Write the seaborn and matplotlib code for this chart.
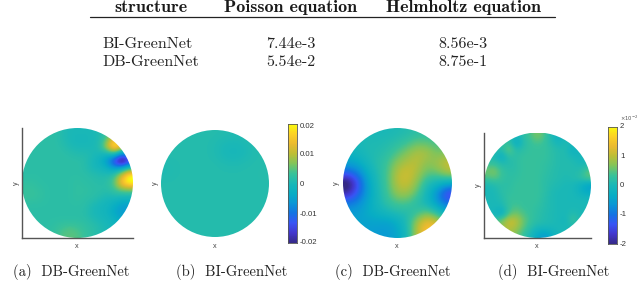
import numpy as np
import matplotlib
matplotlib.use("Agg")
import matplotlib.pyplot as plt
from matplotlib.colors import LinearSegmentedColormap
from matplotlib.patches import Circle
import seaborn as sns

sns.set_theme(style="white")
plt.rcParams["axes.unicode_minus"] = False

W, H = 640, 297

table_headers = ["structure", "Poisson equation", "Helmholtz equation"]
table_methods = ["BI-GreenNet", "DB-GreenNet"]
poisson_errors = ["7.44e-3", "5.54e-2"]
helmholtz_errors = ["8.56e-3", "8.75e-1"]
captions = ["(a)  DB-GreenNet", "(b)  BI-GreenNet", "(c)  DB-GreenNet", "(d)  BI-GreenNet"]
cbar_labels_left = ["0.02", "0.01", "0", "-0.01", "-0.02"]
cbar_labels_right = ["2", "1", "0", "-1", "-2"]

parula = [(0.208, 0.165, 0.529), (0.259, 0.212, 0.800), (0.220, 0.330, 0.960),
          (0.078, 0.450, 0.890), (0.040, 0.590, 0.840), (0.030, 0.680, 0.770),
          (0.100, 0.720, 0.720), (0.220, 0.760, 0.600), (0.500, 0.770, 0.360),
          (0.740, 0.745, 0.210), (0.920, 0.730, 0.190), (0.990, 0.820, 0.150),
          (0.976, 0.984, 0.055)]
cmap = LinearSegmentedColormap.from_list("parula_like", parula, N=256)

# field values in units of the colour bar (-2 .. 2), read by eye from each disc
disc_a = np.array([
    [.2, .2, .2, .2, .2, .1, 0, 0, 0, 0, .1, .2, .4, .5, .5],
    [.2, .2, .2, .2, .2, .1, 0, -.05, -.05, 0, .05, .5, 1.5, 1.2, .9],
    [.2, .2, .2, .2, .2, .15, .05, 0, 0, 0, .1, 1.0, 2.2, 1.4, .8],
    [.2, .2, .2, .2, .2, .2, .15, .1, .1, .05, 0, -.1, .2, -.8, -.5],
    [.2, .2, .2, .2, .2, .2, .2, .2, .15, 0, -.2, -.6, -1.6, -2.6, -1.6],
    [.2, .2, .2, .2, .2, .2, .2, .2, .15, 0, -.05, -.2, -.5, -.3, .3],
    [.2, .2, .2, .2, .2, .2, .2, .2, .2, .15, .1, .1, .3, 1.2, 2.1],
    [.25, .25, .2, .2, .2, .2, .2, .25, .2, .2, .15, .2, .5, 1.6, 2.1],
    [.3, .3, .25, .2, .2, .2, .2, .25, .25, .2, .2, .15, .3, .5, .5],
    [.3, .3, .25, .2, .2, .2, .2, .25, .2, .2, .1, 0, 0, -.1, -.1],
    [.2, .2, .2, .2, .2, .2, .2, .2, .2, .05, -.05, -.1, -.3, -.5, -.5],
    [.2, .2, .2, .2, .2, .2, .2, .2, .15, 0, -.05, -.15, -.4, -.6, -.6],
    [.2, .2, .2, .2, .2, .2, .2, .2, .2, .1, 0, -.05, -.2, -.4, -.4],
    [.2, .2, .2, .2, .25, .35, .4, .35, .25, .2, .1, 0, -.1, -.1, -.1],
    [.2, .2, .2, .2, .3, .45, .5, .45, .3, .2, .1, 0, 0, 0, 0],
])
disc_b = np.array([
    [.12, .12, .12, .12, .12, .12, .1, .08, .1, .12, .12],
    [.12, .12, .12, .12, .12, .08, 0, -.02, .02, .1, .12],
    [.12, .12, .12, .12, .12, .08, -.02, -.05, 0, .1, .12],
    [.08, .1, .12, .12, .12, .12, .08, .06, .1, .12, .12],
    [.06, .1, .12, .12, .12, .12, .12, .12, .12, .12, .14],
    [.12, .12, .12, .12, .12, .12, .12, .12, .12, .12, .12],
    [.12, .12, .12, .12, .12, .12, .12, .12, .12, .12, .12],
    [.12, .12, .12, .12, .12, .12, .12, .12, .12, .12, .12],
    [.12, .12, .12, .12, .12, .12, .12, .12, .12, .12, .12],
    [.12, .12, .12, .12, .12, .12, .12, .12, .12, .12, .12],
    [.12, .12, .12, .12, .12, .12, .12, .12, .12, .12, .12],
])
disc_c = np.array([
    [0, 0, 0, 0, 0, .05, .1, .2, .2, .2, .2],
    [0, 0, .05, .05, .1, .2, .35, .55, .5, .4, .4],
    [-.2, -.1, .05, .1, .2, .45, .7, .95, .9, .6, .7],
    [-.5, -.4, -.05, .15, .35, .75, .95, 1.0, .7, .85, 1.1],
    [-1.2, -.9, -.3, .1, .4, 1.0, 1.15, .9, .5, .55, .9],
    [-2.3, -1.4, -.5, .05, .4, 1.0, 1.1, .7, .1, -.1, -.3],
    [-1.9, -1.2, -.55, 0, .35, .8, .85, .45, -.1, -.7, -1.6],
    [-.9, -.8, -.4, -.05, .25, .4, .4, .15, -.1, -.6, -1.1],
    [-.6, -.55, -.35, -.2, -.05, .1, .1, .3, .6, .2, -.3],
    [-.4, -.5, -.5, -.5, -.55, -.35, .1, .9, 1.5, 1.2, .6],
    [-.4, -.5, -.55, -.6, -.6, -.45, 0, 1.0, 1.6, 1.5, 1],
])
disc_d = np.array([
    [.2, .2, .2, .2, -.1, .2, .4, .7, .4, .0, -.2, 0, 0, 0, 0],
    [.2, .2, .2, .3, -.4, .1, .3, .4, .3, .1, -.1, .1, 0, 0, 0],
    [.2, .2, .1, .7, .1, .2, .3, .3, .3, .2, .1, .1, -.3, 0, 0],
    [.1, 0, -.3, .2, .2, .3, .3, .3, .3, .2, .1, .1, 0, -.1, 0],
    [.3, .3, .1, .1, .2, .3, .3, .3, .25, .2, .1, .1, .1, 0, 0],
    [.6, .7, .3, .2, .2, .3, .3, .3, .25, .15, .1, .1, .1, .1, .5],
    [.4, .5, .3, .2, .25, .3, .3, .3, .2, .15, .1, .05, .1, .2, .5],
    [0, .1, .2, .2, .3, .3, .3, .3, .2, .1, .05, 0, 0, -.2, -.5],
    [0, 0, .2, .25, .3, .3, .3, .3, .2, .05, 0, 0, 0, -.2, -.4],
    [0, 0, .1, .3, .3, .3, .3, .3, .15, .05, 0, 0, 0, 0, 0],
    [0, 0, 0, .3, .4, .3, .3, .25, .15, .05, 0, 0, 0, 0, 0],
    [0, -.1, -.4, .4, .6, .4, .3, .2, .1, .05, 0, 0, .1, 0, 0],
    [0, .3, .6, 1.1, 1.0, .6, .3, .2, .1, .05, 0, -.1, .4, 0, 0],
    [.3, .5, .8, 1.0, .9, .5, .2, 0, 0, 0, 0, 0, 0, 0, 0],
    [.3, .5, .8, .9, .6, .3, 0, -.4, -.6, -.3, 0, 0, 0, 0, 0],
])
discs = [disc_a, disc_b, disc_c, disc_d]
disc_boxes = [(22, 128, 133, 238), (161, 130, 269, 237), (343, 128, 452, 238), (484, 132.5, 591, 238)]
with_axes = [True, False, False, True]
ylabel_x = [16, 155, 336, 478]
xlabel_x = [77, 215, 397, 537]

colorbar_levels = np.linspace(2, -2, 256).reshape(-1, 1)
cbar_boxes = [(288, 124, 297, 243), (608, 126.5, 617, 244)]
cbar_tick_y = [[126, 155, 184.5, 214, 243], [127, 156, 185.5, 215, 244]]
cbar_tick_labels = [cbar_labels_left, cbar_labels_right]


def add_px_axes(fig, x0, y0, x1, y1):
    return fig.add_axes([x0 / W, 1 - y1 / H, (x1 - x0) / W, (y1 - y0) / H])


def px_text(fig, x, y, s, **kw):
    kw.setdefault("va", "center")
    return fig.text(x / W, 1 - y / H, s, **kw)


fig = plt.figure(figsize=(W / 100, H / 100), dpi=100, facecolor="white")

# table
head_x = [151, 291, 463]
for x, s in zip(head_x, table_headers):
    px_text(fig, x, 7.5, s, family="cmb10", fontsize=13, ha="center", color="#1a1a1a")
fig.add_artist(plt.Line2D([90 / W, 555 / W], [1 - 16.5 / H] * 2, color="#222222", lw=0.9))
for y, m, p, h in zip([44, 62], table_methods, poisson_errors, helmholtz_errors):
    px_text(fig, 102.5, y, m, family="cmr10", fontsize=11.6, ha="left", color="#222222")
    px_text(fig, 291, y, p, family="cmr10", fontsize=11.6, ha="center", color="#222222")
    px_text(fig, 463, y, h, family="cmr10", fontsize=11.6, ha="center", color="#222222")

# discs
for grid, box, axed, yx, xx in zip(discs, disc_boxes, with_axes, ylabel_x, xlabel_x):
    ax = add_px_axes(fig, *box)
    im = ax.imshow(grid, cmap=cmap, vmin=-2, vmax=2, aspect="auto", extent=(0, 1, 0, 1),
                   interpolation="bicubic", origin="upper")
    im.set_clip_path(Circle((.5, .5), .5, transform=ax.transData))
    ax.set_xticks([])
    ax.set_yticks([])
    sns.despine(ax=ax)
    for side in ("left", "bottom"):
        ax.spines[side].set_visible(axed)
        ax.spines[side].set_color("#555555")
        ax.spines[side].set_linewidth(1.0)
    ymid = (box[1] + box[3]) / 2
    px_text(fig, yx, ymid, "y", family="Liberation Sans", fontsize=5.2, rotation=90,
            ha="center", color="#444444")
    px_text(fig, xx, 247, "x", family="Liberation Sans", fontsize=5.2, ha="center", color="#444444")

# colour bars
for box, ty, labels in zip(cbar_boxes, cbar_tick_y, cbar_tick_labels):
    cax = add_px_axes(fig, *box)
    sns.heatmap(colorbar_levels, ax=cax, cmap=cmap, vmin=-2, vmax=2, cbar=False,
                xticklabels=False, yticklabels=False, rasterized=True)
    for sp in cax.spines.values():
        sp.set_visible(True)
        sp.set_color("#555555")
        sp.set_linewidth(0.6)
    for y, s in zip(ty, labels):
        px_text(fig, box[2] + 3, y, s, family="Liberation Sans", fontsize=5.6, ha="left", color="#333333")
px_text(fig, 620, 118.5, r"$\times 10^{-2}$", fontsize=3.8, ha="left", color="#555555")

# captions
for x, s in zip([71, 232, 393, 554], captions):
    px_text(fig, x, 272, s, family="cmr10", fontsize=10.6, ha="center", color="#222222")

fig.savefig("out.png", dpi=100)
